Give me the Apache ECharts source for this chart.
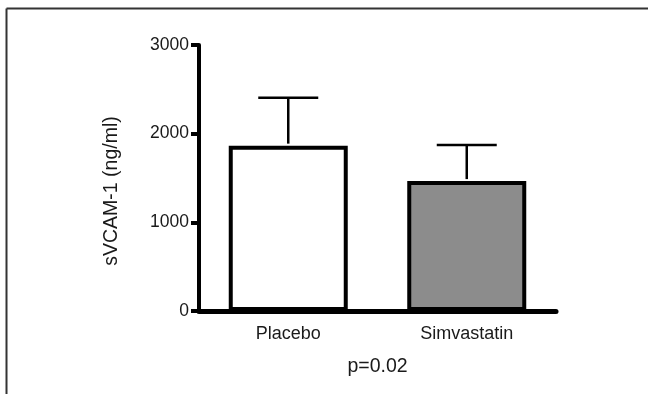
<!DOCTYPE html>
<html>
<head>
<meta charset="utf-8">
<script src="https://cdn.jsdelivr.net/npm/echarts@6/dist/echarts.min.js"></script>
<style>
  html, body { margin: 0; padding: 0; background: #fff; }
  #main { width: 648px; height: 394px; }
</style>
</head>
<body>
<div id="main"></div>
<script>
// data
const categories = ['Placebo', 'Simvastatin'];
const means = [1865, 1465];
const sdUpper = [540, 407];
const barColors = ['#ffffff', '#8c8c8c'];
const yTicks = [0, 1000, 2000, 3000];

const chartDom = document.getElementById('main');
const myChart = echarts.init(chartDom);

const font = 'Arial, "Liberation Sans", sans-serif';

const option = {
    animation: false,
    backgroundColor: '#fff',
    grid: { left: 199, right: 92, top: 45, bottom: 83 },
    graphic: [
        { type: 'line', shape: { x1: 6.5, y1: 8.5, x2: 648, y2: 8.5 }, style: { stroke: '#333', lineWidth: 2 } },
        { type: 'line', shape: { x1: 6.5, y1: 8.5, x2: 6.5, y2: 394 }, style: { stroke: '#333', lineWidth: 2 } }
    ],
    xAxis: {
        type: 'category',
        data: categories,
        name: 'p=0.02',
        nameLocation: 'middle',
        nameGap: 46,
        nameTextStyle: { fontFamily: font, fontSize: 19.5, color: '#1a1a1a' },
        axisLine: { lineStyle: { color: '#000', width: 5 } },
        axisTick: { alignWithLabel: true, length: 8, lineStyle: { color: '#000', width: 4 } },
        axisLabel: { fontFamily: font, fontSize: 18, color: '#1a1a1a', margin: 14 }
    },
    yAxis: {
        type: 'value',
        min: yTicks[0],
        max: yTicks[yTicks.length - 1],
        interval: 1000,
        name: 'sVCAM-1 (ng/ml)',
        nameLocation: 'middle',
        nameGap: 77,
        nameTextStyle: { fontFamily: font, fontSize: 19.5, color: '#1a1a1a', padding: [0, 0, 0, -26] },
        axisLine: { show: true, lineStyle: { color: '#000', width: 4 } },
        axisTick: { show: true, length: 8, lineStyle: { color: '#000', width: 4 } },
        axisLabel: { fontFamily: font, fontSize: 17.5, color: '#1a1a1a', margin: 10, formatter: v => String(v) },
        splitLine: { show: false }
    },
    series: [
        {
            type: 'bar',
            barWidth: 119,
            data: means.map((v, i) => ({
                value: v,
                itemStyle: { color: barColors[i], borderColor: '#000', borderWidth: 4 }
            })),
            z: 2
        },
        {
            type: 'custom',
            z: 3,
            data: means.map((v, i) => [i, v, v + sdUpper[i]]),
            renderItem: function (params, api) {
                const base = api.coord([api.value(0), api.value(1)]);
                const top = api.coord([api.value(0), api.value(2)]);
                const half = 30;
                const style = { stroke: '#000', lineWidth: 2.5 };
                return {
                    type: 'group',
                    children: [
                        { type: 'line', shape: { x1: top[0], y1: base[1] - 2, x2: top[0], y2: top[1] }, style: style },
                        { type: 'line', shape: { x1: top[0] - half, y1: top[1], x2: top[0] + half, y2: top[1] }, style: style }
                    ]
                };
            }
        }
    ]
};

option && myChart.setOption(option);
</script>
</body>
</html>
